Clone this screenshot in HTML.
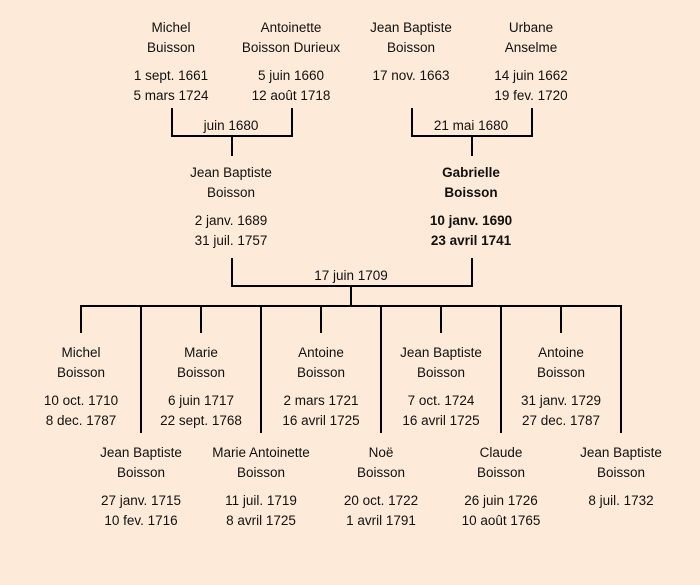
<!DOCTYPE html>
<html>
<head>
<meta charset="utf-8">
<style>
html,body{margin:0;padding:0;background:#fdead8;}
svg{display:block;}
text{font-family:"Liberation Sans","DejaVu Sans",sans-serif;font-size:13.5px;fill:#111;text-anchor:middle;}
.b{font-weight:bold;}
</style>
</head>
<body>
<svg width="700" height="585" viewBox="0 0 700 585" xmlns="http://www.w3.org/2000/svg">
<rect width="700" height="585" fill="#fdead8"/>
<g stroke="#000" stroke-width="2" fill="none">
  <!-- top left couple -->
  <path d="M172 108 V136 H292 V108"/>
  <path d="M232 136 V156"/>
  <!-- top right couple -->
  <path d="M412 108 V136 H532 V108"/>
  <path d="M472 136 V156"/>
  <!-- middle couple -->
  <path d="M232 258 V286 H472 V258"/>
  <path d="M351 286 V306"/>
  <!-- children bar -->
  <path d="M80 306 H622"/>
  <path d="M81 306 V333"/>
  <path d="M141 306 V433"/>
  <path d="M201 306 V333"/>
  <path d="M261 306 V433"/>
  <path d="M321 306 V333"/>
  <path d="M381 306 V433"/>
  <path d="M441 306 V333"/>
  <path d="M501 306 V433"/>
  <path d="M561 306 V333"/>
  <path d="M621 306 V433"/>
</g>

<!-- top generation -->
<text x="171" y="32">Michel</text>
<text x="171" y="52">Buisson</text>
<text x="171" y="80">1 sept. 1661</text>
<text x="171" y="100">5 mars 1724</text>

<text x="291" y="32">Antoinette</text>
<text x="291" y="52">Boisson Durieux</text>
<text x="291" y="80">5 juin 1660</text>
<text x="291" y="100">12 août 1718</text>

<text x="411" y="32">Jean Baptiste</text>
<text x="411" y="52">Boisson</text>
<text x="411" y="80">17 nov. 1663</text>

<text x="531" y="32">Urbane</text>
<text x="531" y="52">Anselme</text>
<text x="531" y="80">14 juin 1662</text>
<text x="531" y="100">19 fev. 1720</text>

<text x="231" y="130">juin 1680</text>
<text x="471" y="130">21 mai 1680</text>

<!-- middle generation -->
<text x="231" y="177">Jean Baptiste</text>
<text x="231" y="197">Boisson</text>
<text x="231" y="225">2 janv. 1689</text>
<text x="231" y="245">31 juil. 1757</text>

<text class="b" x="471" y="177">Gabrielle</text>
<text class="b" x="471" y="197">Boisson</text>
<text class="b" x="471" y="225">10 janv. 1690</text>
<text class="b" x="471" y="245">23 avril 1741</text>

<text x="351" y="280">17 juin 1709</text>

<!-- children row 1 -->
<text x="81" y="357">Michel</text>
<text x="81" y="377">Boisson</text>
<text x="81" y="405">10 oct. 1710</text>
<text x="81" y="425">8 dec. 1787</text>

<text x="201" y="357">Marie</text>
<text x="201" y="377">Boisson</text>
<text x="201" y="405">6 juin 1717</text>
<text x="201" y="425">22 sept. 1768</text>

<text x="321" y="357">Antoine</text>
<text x="321" y="377">Boisson</text>
<text x="321" y="405">2 mars 1721</text>
<text x="321" y="425">16 avril 1725</text>

<text x="441" y="357">Jean Baptiste</text>
<text x="441" y="377">Boisson</text>
<text x="441" y="405">7 oct. 1724</text>
<text x="441" y="425">16 avril 1725</text>

<text x="561" y="357">Antoine</text>
<text x="561" y="377">Boisson</text>
<text x="561" y="405">31 janv. 1729</text>
<text x="561" y="425">27 dec. 1787</text>

<!-- children row 2 -->
<text x="141" y="457">Jean Baptiste</text>
<text x="141" y="477">Boisson</text>
<text x="141" y="505">27 janv. 1715</text>
<text x="141" y="525">10 fev. 1716</text>

<text x="261" y="457">Marie Antoinette</text>
<text x="261" y="477">Boisson</text>
<text x="261" y="505">11 juil. 1719</text>
<text x="261" y="525">8 avril 1725</text>

<text x="381" y="457">Noë</text>
<text x="381" y="477">Boisson</text>
<text x="381" y="505">20 oct. 1722</text>
<text x="381" y="525">1 avril 1791</text>

<text x="501" y="457">Claude</text>
<text x="501" y="477">Boisson</text>
<text x="501" y="505">26 juin 1726</text>
<text x="501" y="525">10 août 1765</text>

<text x="621" y="457">Jean Baptiste</text>
<text x="621" y="477">Boisson</text>
<text x="621" y="505">8 juil. 1732</text>
</svg>
</body>
</html>
